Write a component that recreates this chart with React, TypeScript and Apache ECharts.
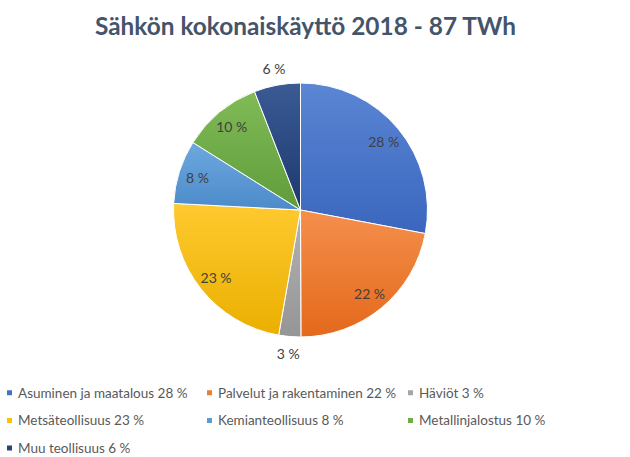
import React, { useEffect, useRef } from "react";
import * as echarts from "echarts";

const titleText = "Sähkön kokonaiskäyttö 2018 - 87 TWh";
const categories = [
  "Asuminen ja maatalous",
  "Palvelut ja rakentaminen",
  "Häviöt",
  "Metsäteollisuus",
  "Kemianteollisuus",
  "Metallinjalostus",
  "Muu teollisuus",
];
const shares = [28, 22, 2.8, 23.1, 8.1, 10.2, 5.9];
const legendPercents = [28, 22, 3, 23, 8, 10, 6];
const baseColors = ["#4472C4", "#ED7D31", "#A5A5A5", "#FFC000", "#5B9BD5", "#70AD47", "#264478"];
const lightColors = ["#5B86D4", "#F48F4C", "#B3B3B3", "#FFCA30", "#6DA8DE", "#80BB57", "#3B5B95"];
const darkColors = ["#3A66BE", "#E4691B", "#959595", "#EAAF00", "#4C8ACA", "#609C3B", "#1D386E"];
const outsideLabelIdx = [2, 6];
const legendColumns = [[0, 3, 6], [1, 4], [2, 5]];
const legendLefts = [5, 205, 406];

export default function App() {
  const ref = useRef<HTMLDivElement>(null);
  useEffect(() => {
    if (!ref.current) return;
    const chart = echarts.init(ref.current, null, { renderer: "svg" });
    const center = [300.5, 210];
    const labelFont = { fontFamily: "Lato", fontSize: 14, color: "#404040" };
    const fmt = (p: any) => `${Math.round(p.value)} %`;
    const mainData = categories.map((name, i) => ({
      name,
      value: shares[i],
      itemStyle: {
        color: new echarts.graphic.LinearGradient(0, 0, 0, 1, [
          { offset: 0, color: lightColors[i] },
          { offset: 1, color: darkColors[i] },
        ]),
      },
    }));
    const ringData = (showOutside: boolean) =>
      categories.map((name, i) => ({
        name,
        value: shares[i],
        label: { show: outsideLabelIdx.includes(i) === showOutside },
      }));
    const legendText = (name: string) => {
      const i = categories.indexOf(name);
      return `${name} ${legendPercents[i]} %`;
    };
    chart.setOption({
      animation: false,
      title: {
        text: titleText,
        left: 300.5,
        top: 8,
        textAlign: "center",
        textStyle: { fontFamily: "Lato", fontWeight: "bold", fontSize: 24.4, color: "#44546A" },
      },
      legend: legendColumns.map((col, c) => ({
        orient: "vertical",
        left: legendLefts[c],
        top: 384.7,
        height: 72,
        padding: 0,
        itemGap: 11.7,
        itemWidth: 7,
        itemHeight: 7,
        icon: "rect",
        selectedMode: false,
        data: col.map((i) => ({ name: categories[i], itemStyle: { color: baseColors[i] } })),
        formatter: legendText,
        textStyle: { fontFamily: "Lato", fontSize: 13.5, color: "#595959", lineHeight: 16 },
      })),
      series: [
        {
          type: "pie",
          center,
          radius: 127,
          startAngle: 90,
          clockwise: true,
          silent: true,
          label: { show: false },
          labelLine: { show: false },
          itemStyle: { borderColor: "#ffffff", borderWidth: 1 },
          data: mainData,
        },
        {
          type: "pie",
          center,
          radius: [83, 127],
          startAngle: 90,
          silent: true,
          itemStyle: { color: "transparent" },
          label: { position: "inside", formatter: fmt, ...labelFont },
          labelLine: { show: false },
          data: ringData(false),
        },
        {
          type: "pie",
          center,
          radius: [139, 143],
          startAngle: 90,
          silent: true,
          itemStyle: { color: "transparent" },
          label: { position: "inside", formatter: fmt, ...labelFont },
          labelLine: { show: false },
          data: ringData(true),
        },
      ],
    });
    return () => chart.dispose();
  }, []);
  return (
    <div
      ref={ref}
      style={{ position: "fixed", left: 0, top: 0, width: 630, height: 457, background: "#fff" }}
    />
  );
}
